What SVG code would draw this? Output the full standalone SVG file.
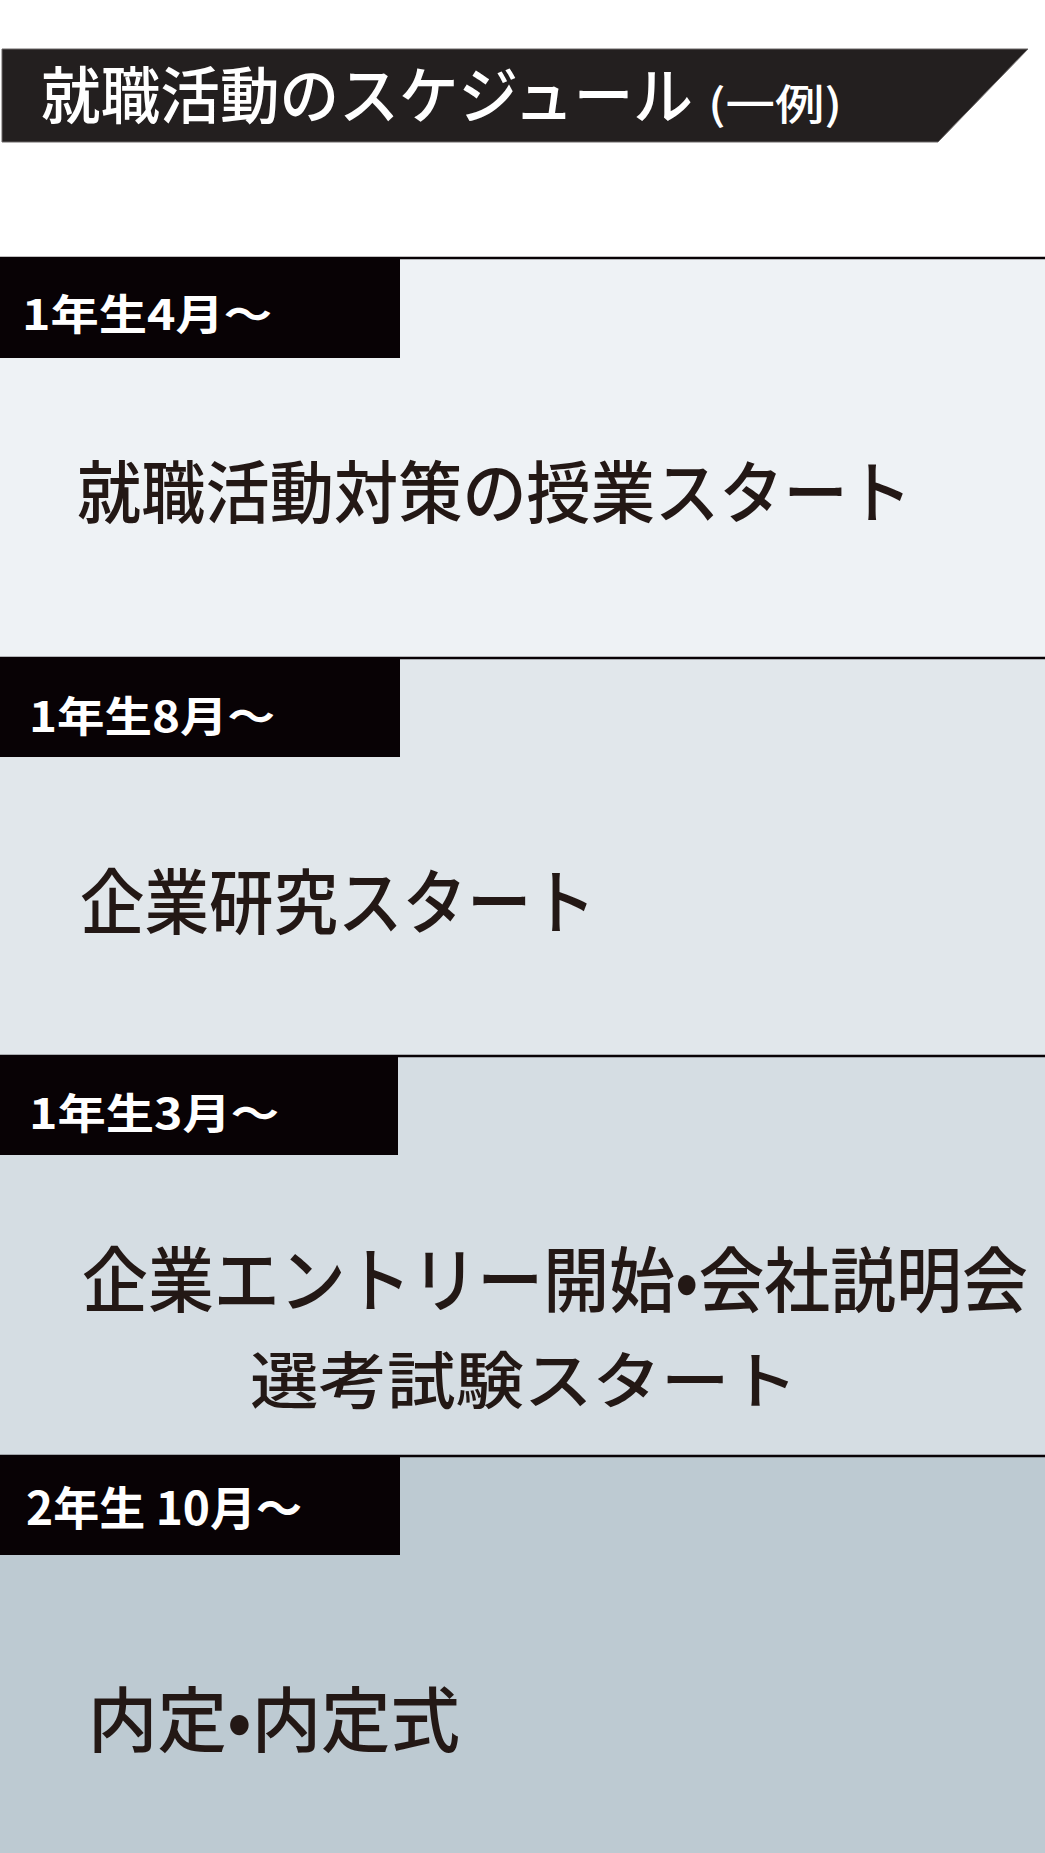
<svg xmlns="http://www.w3.org/2000/svg" width="1045" height="1853" viewBox="0 0 1045 1853">
<style>
text { font-family: "Noto Sans CJK JP", "Noto Sans CJK SC", sans-serif; }
.main { fill: #231815; font-weight: 500; }
.tab { fill: #080205; }
.tablabel { fill: #ffffff; font-weight: 700; }
.sep { stroke: #080205; stroke-width: 2.5; }
</style>
<rect x="0" y="0" width="1045" height="1853" fill="#ffffff"/>
<g id="title">
  <polygon points="2,49 1028,49 938,142 2,142" fill="#231f1f" stroke="#6b6767" stroke-width="1"/>
  <text x="41" y="119" font-size="62" font-weight="500" fill="#ffffff" textLength="652" lengthAdjust="spacingAndGlyphs">就職活動のスケジュール</text>
  <text x="708" y="120" font-size="42" font-weight="500" fill="#ffffff" textLength="134" lengthAdjust="spacingAndGlyphs">(一例)</text>
</g>
<g id="band1">
  <rect x="0" y="257" width="1045" height="400" fill="#eef2f5"/>
  <line class="sep" x1="0" y1="258" x2="1045" y2="258"/>
  <rect class="tab" x="0" y="257" width="400" height="101"/>
  <text class="tablabel" x="22" y="330" font-size="42" textLength="250" lengthAdjust="spacingAndGlyphs">1年生4月～</text>
  <text class="main" x="77" y="518" font-size="68" textLength="835" lengthAdjust="spacingAndGlyphs">就職活動対策の授業スタート</text>
</g>
<g id="band2">
  <rect x="0" y="657" width="1045" height="398" fill="#e1e7eb"/>
  <line class="sep" x1="0" y1="658" x2="1045" y2="658"/>
  <rect class="tab" x="0" y="657" width="400" height="100"/>
  <text class="tablabel" x="29" y="732" font-size="42" textLength="246" lengthAdjust="spacingAndGlyphs">1年生8月～</text>
  <text class="main" x="80" y="928" font-size="71" textLength="516" lengthAdjust="spacingAndGlyphs">企業研究スタート</text>
</g>
<g id="band3">
  <rect x="0" y="1055" width="1045" height="400" fill="#d5dde3"/>
  <line class="sep" x1="0" y1="1056" x2="1045" y2="1056"/>
  <rect class="tab" x="0" y="1055" width="398" height="100"/>
  <text class="tablabel" x="29" y="1129" font-size="42" textLength="250" lengthAdjust="spacingAndGlyphs">1年生3月～</text>
  <text class="main" transform="matrix(0.9 0 0 1 82 1306)" x="0" y="0" font-size="71" textLength="1051" lengthAdjust="spacingAndGlyphs">企業エントリー開始•会社説明会</text>
  <text class="main" x="250" y="1404" font-size="62" textLength="548" lengthAdjust="spacingAndGlyphs">選考試験スタート</text>
</g>
<g id="band4">
  <rect x="0" y="1455" width="1045" height="398" fill="#bdcad2"/>
  <line class="sep" x1="0" y1="1456" x2="1045" y2="1456"/>
  <rect class="tab" x="0" y="1455" width="400" height="100"/>
  <text class="tablabel" x="26" y="1525" font-size="46" textLength="276" lengthAdjust="spacingAndGlyphs">2年生 10月～</text>
  <text class="main" x="88" y="1746" font-size="71" textLength="372" lengthAdjust="spacingAndGlyphs">内定•内定式</text>
</g>
</svg>
